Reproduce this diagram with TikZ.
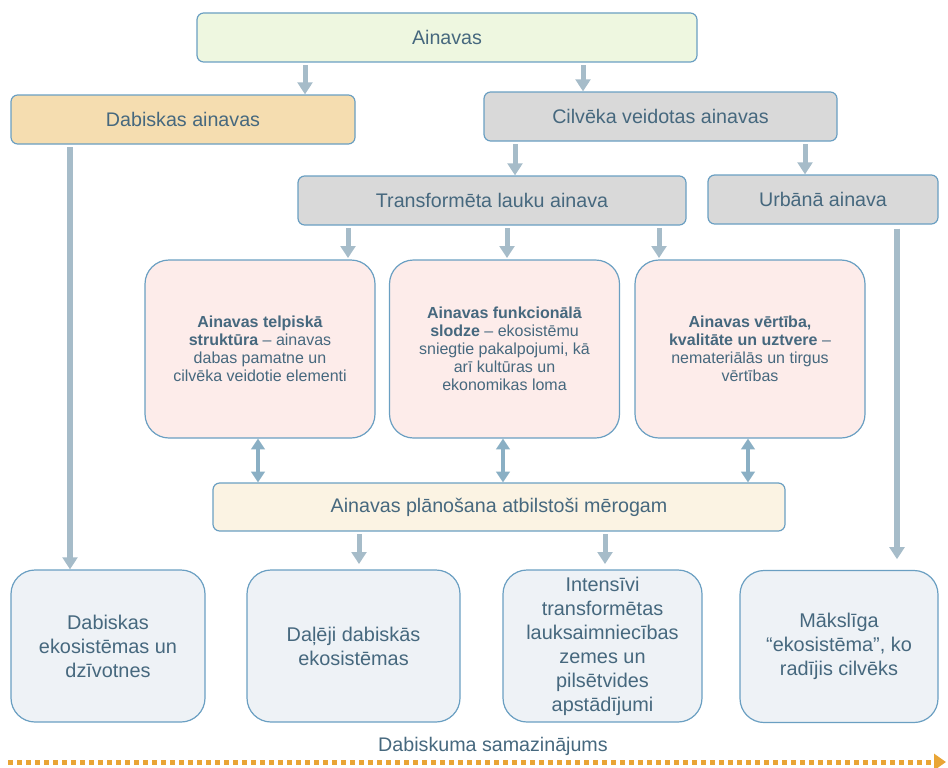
\documentclass[tikz,border=0pt]{standalone}
\usepackage{fontspec}
\setmainfont{Liberation Sans}
\usetikzlibrary{arrows.meta}
\definecolor{txtblue}{HTML}{46687E}
\definecolor{edgeblue}{HTML}{6A9FC2}
\definecolor{arrowgrey}{HTML}{A6BCC9}
\definecolor{arrowblue}{HTML}{8AAFC4}
\definecolor{dotorange}{HTML}{E9A535}
\definecolor{fillgreen}{HTML}{EEF7E0}
\definecolor{fillpeach}{HTML}{F5DDB0}
\definecolor{fillgrey}{HTML}{D9D9D9}
\definecolor{fillpink}{HTML}{FDECEA}
\definecolor{fillcream}{HTML}{FBF3E3}
\definecolor{fillice}{HTML}{EEF2F6}
\tikzset{
  box/.style={draw=edgeblue, line width=0.9pt, rounded corners=5pt, inner sep=0pt,
    text=txtblue, font=\fontsize{14.75}{17}\selectfont},
  roundbox/.style={box, rounded corners=18pt, align=center},
  pinkbox/.style={roundbox, fill=fillpink, minimum width=172.5pt, minimum height=133.5pt,
    font=\fontsize{12}{13.6}\selectfont},
  endbox/.style={roundbox, fill=fillice, minimum height=114pt,
    font=\fontsize{14.9}{18}\selectfont},
  down/.style={draw=arrowgrey, line width=3.75pt, shorten <=2pt, -{Triangle[width=11pt,length=9pt]}},
  both/.style={draw=arrowblue, line width=3pt, {Triangle[width=10pt,length=8pt]}-{Triangle[width=10pt,length=8pt]}},
}

\begin{document}
\begin{tikzpicture}[x=0.75pt, y=-0.75pt]
	%%%%% START %%%%%
	\useasboundingbox (0,0) rectangle (948,767);
	
	% top levels
	\node[box, fill=fillgreen, minimum width=375pt, minimum height=36.75pt] (top) at (447, 37.5) {Ainavas};
	\node[box, fill=fillpeach, minimum width=258pt, minimum height=36.75pt] (dab) at (183, 119.5) {Dabiskas ainavas};
	\node[box, fill=fillgrey, minimum width=264.75pt, minimum height=36.75pt] (cil) at (660.5, 116.5) {Cilvēka veidotas ainavas};
	\node[box, fill=fillgrey, minimum width=291pt, minimum height=36.75pt] (tra) at (492, 200.5) {Transformēta lauku ainava};
	\node[box, fill=fillgrey, minimum width=172.5pt, minimum height=36.75pt] (urb) at (823, 199.5) {Urbānā ainava};
	
	% three aspects
	\node[pinkbox] (telp) at (260, 349) {\textbf{Ainavas telpiskā}\\\textbf{struktūra} – ainavas\\dabas pamatne un\\cilvēka veidotie elementi};
	\node[pinkbox] (funk) at (504.5, 349) {\textbf{Ainavas funkcionālā}\\\textbf{slodze} – ekosistēmu\\sniegtie pakalpojumi, kā\\arī kultūras un\\ekonomikas loma};
	\node[pinkbox] (vert) at (750, 349) {\textbf{Ainavas vērtība,}\\\textbf{kvalitāte un uztvere} –\\nemateriālās un tirgus\\vērtības};
	
	\node[box, fill=fillcream, minimum width=429pt, minimum height=36pt] (plan) at (499, 507) {Ainavas plānošana atbilstoši mērogam};
	
	% ecosystems
	\node[endbox, minimum width=145.5pt] (eko1) at (108, 646) {Dabiskas\\ekosistēmas un\\dzīvotnes};
	\node[endbox, minimum width=159.75pt] (eko2) at (353.5, 646) {Daļēji dabiskās\\ekosistēmas};
	\node[endbox, minimum width=149.25pt] (eko3) at (602.5, 646) {Intensīvi\\transformētas\\lauksaimniecības\\zemes un\\pilsētvides\\apstādījumi};
	\node[endbox, minimum width=148.5pt] (eko4) at (839, 646.5) {Mākslīga\\“ekosistēma”, ko\\radījis cilvēks};
	
	% arrows
	\draw[down] (top.south -| 305,0) -- (dab.north -| 305,0);
	\draw[down] (top.south -| 583,0) -- (cil.north -| 583,0);
	\draw[down] (cil.south -| 515,0) -- (tra.north -| 515,0);
	\draw[down] (cil.south -| 805,0) -- (urb.north -| 805,0);
	\draw[down, line width=4.5pt] (dab.south -| 70,0) -- (eko1.north -| 70,0);
	\draw[down, line width=4.5pt, shorten <=3pt, shorten >=8pt] (urb.south -| 897,0) -- (eko4.north -| 897,0);
	
	\draw[down, shorten >=1pt] (tra.south -| 348,0) -- (telp.north -| 348,0);
	\draw[down, shorten >=1pt] (tra.south -| 507,0) -- (funk.north -| 507,0);
	\draw[down, shorten >=1pt] (tra.south -| 659,0) -- (vert.north -| 659,0);
	
	\draw[both] (telp.south -| 258,0) -- (plan.north -| 258,0);
	\draw[both] (funk.south -| 503,0) -- (plan.north -| 503,0);
	\draw[both] (vert.south -| 748,0) -- (plan.north -| 748,0);
	
	\draw[down, shorten >=4pt] (plan.south -| 359,0) -- (eko2.north -| 359,0);
	\draw[down, shorten >=4pt] (plan.south -| 605,0) -- (eko3.north -| 605,0);
	
	% naturalness axis
	\node[text=txtblue, font=\fontsize{14.75}{17}\selectfont] (axis) at (493, 746) {Dabiskuma samazinājums};
	\coordinate (axisL) at (8, 762);
	\coordinate (axisR) at (946, 762);
	\draw[dotorange, line width=3.75pt, dash pattern=on 3.75pt off 3pt, -{Triangle[width=12pt,length=9pt]}] (axisL) -- (axisR);
	
	%%%%% END %%%%%
\end{tikzpicture}
\end{document}
